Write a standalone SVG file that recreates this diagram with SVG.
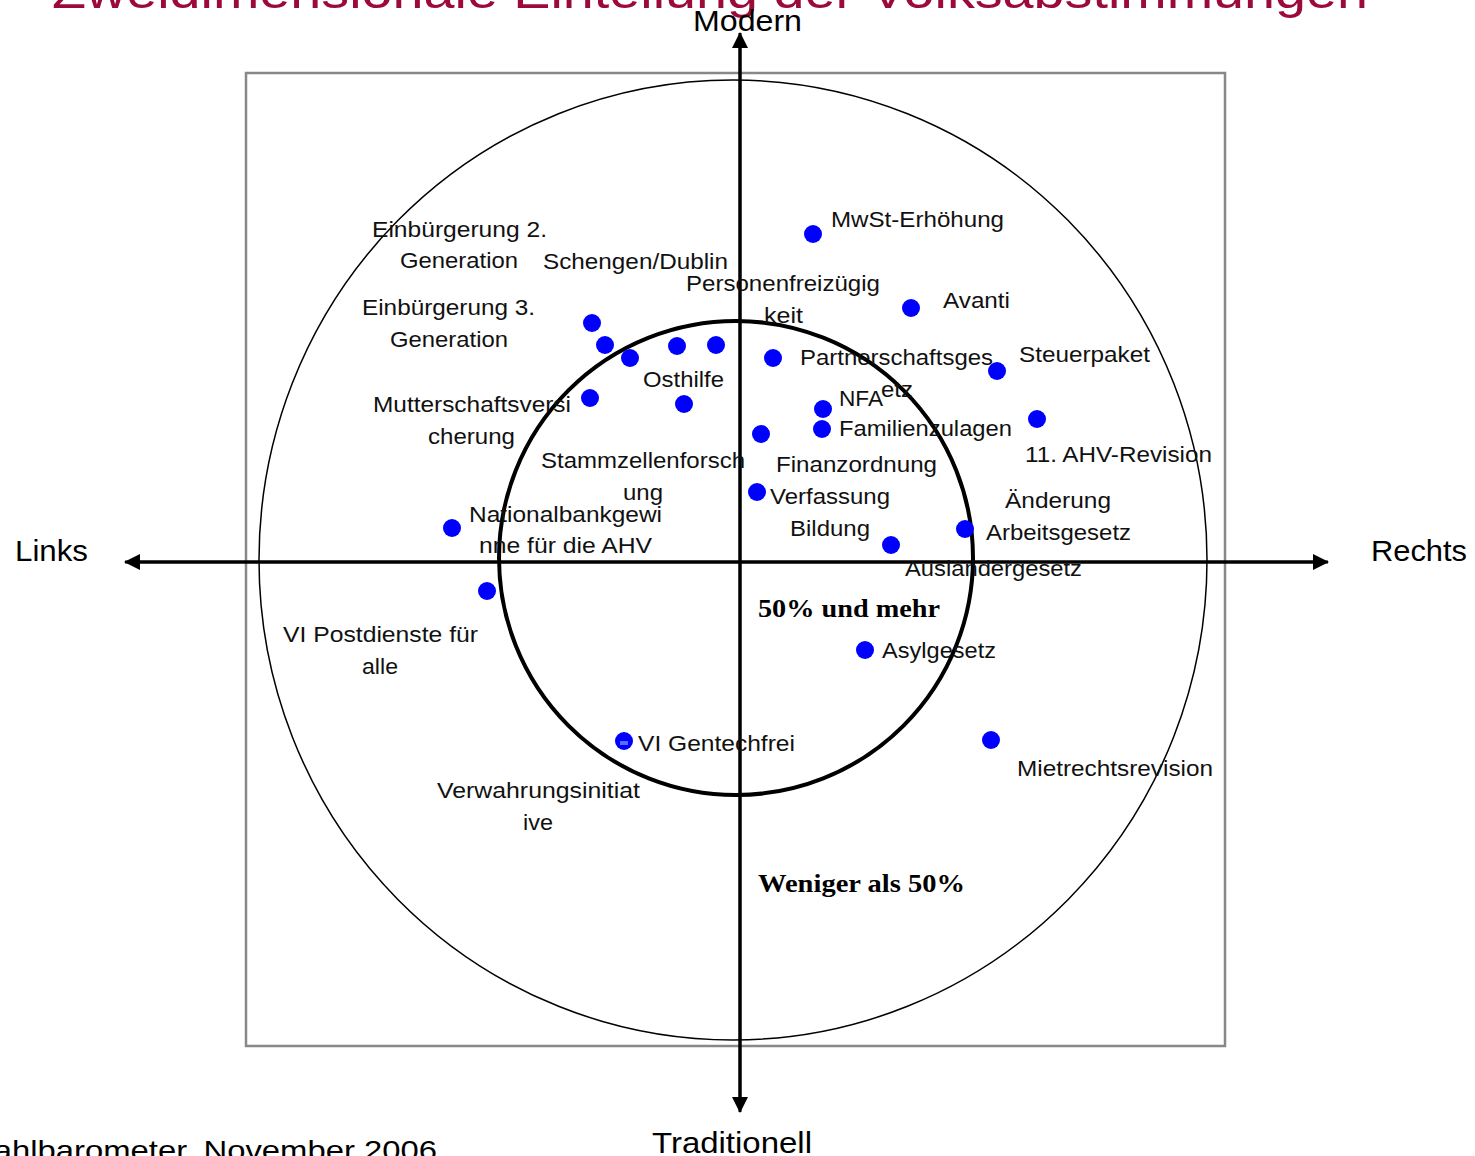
<svg xmlns="http://www.w3.org/2000/svg" width="1475" height="1156" viewBox="0 0 1475 1156">
<style>
.lbl{font-family:"Liberation Sans","DejaVu Sans",sans-serif;font-size:22px;fill:#111}
.ax{font-family:"Liberation Sans","DejaVu Sans",sans-serif;font-size:29px;fill:#000}
.bold{font-family:"Liberation Serif","DejaVu Serif",serif;font-weight:bold;font-size:25px;fill:#000}
.dot{fill:#0000ff}
.mid{text-anchor:middle}
</style>
<defs>
<marker id="ah" viewBox="0 0 16 16" refX="15" refY="8" markerWidth="16" markerHeight="16" markerUnits="userSpaceOnUse" orient="auto">
<path d="M0,0 L16,8 L0,16 Z" fill="#000"/>
</marker>
</defs>
<rect width="1475" height="1156" fill="#fff"/>
<text x="52" y="8" font-family="Liberation Sans, sans-serif" font-size="48" fill="#9b0a3a" textLength="1316" lengthAdjust="spacingAndGlyphs">Zweidimensionale Einteilung der Volksabstimmungen</text>
<rect x="246" y="73" width="979" height="973" fill="none" stroke="#888" stroke-width="2.5"/>
<ellipse cx="733" cy="560" rx="474" ry="480" fill="none" stroke="#000" stroke-width="1.5"/>
<circle cx="736" cy="558" r="237" fill="none" stroke="#000" stroke-width="4"/>
<g id="connectors">
<line x1="740" y1="1097" x2="740" y2="33" stroke="#000" stroke-width="3" marker-end="url(#ah)"/>
<line x1="740" y1="48" x2="740" y2="1112" stroke="#000" stroke-width="3" marker-end="url(#ah)"/>
<line x1="140" y1="562" x2="1328" y2="562" stroke="#000" stroke-width="3" marker-end="url(#ah)"/>
<line x1="1313" y1="562" x2="125" y2="562" stroke="#000" stroke-width="3" marker-end="url(#ah)"/>
</g>
<g id="axis-labels">
<text class="ax" x="693" y="31" textLength="109" lengthAdjust="spacingAndGlyphs">Modern</text>
<text class="ax" x="652" y="1153" textLength="160" lengthAdjust="spacingAndGlyphs">Traditionell</text>
<text class="ax" x="15" y="561" textLength="73" lengthAdjust="spacingAndGlyphs">Links</text>
<text class="ax" x="1371" y="561" textLength="96" lengthAdjust="spacingAndGlyphs">Rechts</text>
</g>
<text x="-36" y="1160" font-family="Liberation Sans, sans-serif" font-size="28" fill="#000" textLength="473" lengthAdjust="spacingAndGlyphs">Wahlbarometer, November 2006</text>
<text class="bold" x="758" y="617" textLength="182" lengthAdjust="spacingAndGlyphs">50% und mehr</text>
<text class="bold" x="758" y="892" textLength="207" lengthAdjust="spacingAndGlyphs">Weniger als 50%</text>

<g id="einbuergerung2">
<text class="lbl" x="372" y="237" textLength="175" lengthAdjust="spacingAndGlyphs">Einbürgerung 2.</text>
<text class="lbl" x="400" y="268" textLength="118" lengthAdjust="spacingAndGlyphs">Generation</text>
<circle class="dot" cx="592" cy="323" r="9"/>
</g>
<g id="schengen">
<text class="lbl" x="543" y="269" textLength="185" lengthAdjust="spacingAndGlyphs">Schengen/Dublin</text>
<circle class="dot" cx="677" cy="346" r="9"/>
</g>
<g id="einbuergerung3">
<text class="lbl" x="362" y="315" textLength="173" lengthAdjust="spacingAndGlyphs">Einbürgerung 3.</text>
<text class="lbl" x="390" y="347" textLength="118" lengthAdjust="spacingAndGlyphs">Generation</text>
<circle class="dot" cx="605" cy="345" r="9"/>
</g>
<g id="osthilfe">
<text class="lbl" x="643" y="387" textLength="81" lengthAdjust="spacingAndGlyphs">Osthilfe</text>
<circle class="dot" cx="630" cy="358" r="9"/>
</g>
<g id="personenfreizuegigkeit">
<text class="lbl" x="686" y="291" textLength="194" lengthAdjust="spacingAndGlyphs">Personenfreizügig</text>
<text class="lbl" x="764" y="323" textLength="39" lengthAdjust="spacingAndGlyphs">keit</text>
<circle class="dot" cx="716" cy="345" r="9"/>
</g>
<g id="mutterschaft">
<text class="lbl" x="373" y="412" textLength="198" lengthAdjust="spacingAndGlyphs">Mutterschaftsversi</text>
<text class="lbl" x="428" y="444" textLength="87" lengthAdjust="spacingAndGlyphs">cherung</text>
<circle class="dot" cx="590" cy="398" r="9"/>
</g>
<g id="stammzellen">
<text class="lbl" x="541" y="468" textLength="204" lengthAdjust="spacingAndGlyphs">Stammzellenforsch</text>
<text class="lbl" x="623" y="500" textLength="40" lengthAdjust="spacingAndGlyphs">ung</text>
<circle class="dot" cx="684" cy="404" r="9"/>
</g>
<g id="nationalbank">
<text class="lbl" x="469" y="522" textLength="193" lengthAdjust="spacingAndGlyphs">Nationalbankgewi</text>
<text class="lbl" x="479" y="553" textLength="173" lengthAdjust="spacingAndGlyphs">nne für die AHV</text>
<circle class="dot" cx="452" cy="528" r="9"/>
</g>
<g id="postdienste">
<text class="lbl" x="283" y="642" textLength="195" lengthAdjust="spacingAndGlyphs">VI Postdienste für</text>
<text class="lbl" x="362" y="674" textLength="36" lengthAdjust="spacingAndGlyphs">alle</text>
<circle class="dot" cx="487" cy="591" r="9"/>
</g>
<g id="gentechfrei">
<text class="lbl" x="638" y="751" textLength="157" lengthAdjust="spacingAndGlyphs">VI Gentechfrei</text>
<circle class="dot" cx="624" cy="741" r="9"/>
<rect x="620" y="741" width="8" height="4" fill="#5a6cff"/>
</g>
<g id="verwahrung">
<text class="lbl" x="437" y="798" textLength="203" lengthAdjust="spacingAndGlyphs">Verwahrungsinitiat</text>
<text class="lbl" x="523" y="830" textLength="30" lengthAdjust="spacingAndGlyphs">ive</text>
</g>
<g id="mwst">
<text class="lbl" x="831" y="227" textLength="173" lengthAdjust="spacingAndGlyphs">MwSt-Erhöhung</text>
<circle class="dot" cx="813" cy="234" r="9"/>
</g>
<g id="avanti">
<text class="lbl" x="943" y="308" textLength="67" lengthAdjust="spacingAndGlyphs">Avanti</text>
<circle class="dot" cx="911" cy="308" r="9"/>
</g>
<g id="steuerpaket">
<text class="lbl" x="1019" y="362" textLength="131" lengthAdjust="spacingAndGlyphs">Steuerpaket</text>
<circle class="dot" cx="997" cy="371" r="9"/>
</g>
<g id="partnerschaft">
<text class="lbl" x="800" y="365" textLength="193" lengthAdjust="spacingAndGlyphs">Partnerschaftsges</text>
<text class="lbl" x="881" y="397" textLength="32" lengthAdjust="spacingAndGlyphs">etz</text>
<circle class="dot" cx="773" cy="358" r="9"/>
</g>
<g id="nfa">
<text class="lbl" x="839" y="406" textLength="44" lengthAdjust="spacingAndGlyphs">NFA</text>
<circle class="dot" cx="823" cy="409" r="9"/>
</g>
<g id="familienzulagen">
<text class="lbl" x="839" y="436" textLength="173" lengthAdjust="spacingAndGlyphs">Familienzulagen</text>
<circle class="dot" cx="822" cy="429" r="9"/>
</g>
<g id="ahv11">
<text class="lbl" x="1025" y="462" textLength="187" lengthAdjust="spacingAndGlyphs">11. AHV-Revision</text>
<circle class="dot" cx="1037" cy="419" r="9"/>
</g>
<g id="finanzordnung">
<text class="lbl" x="776" y="472" textLength="161" lengthAdjust="spacingAndGlyphs">Finanzordnung</text>
<circle class="dot" cx="761" cy="434" r="9"/>
</g>
<g id="verfassung-bildung">
<text class="lbl" x="770" y="504" textLength="120" lengthAdjust="spacingAndGlyphs">Verfassung</text>
<text class="lbl" x="790" y="536" textLength="80" lengthAdjust="spacingAndGlyphs">Bildung</text>
<circle class="dot" cx="757" cy="492" r="9"/>
</g>
<g id="arbeitsgesetz">
<text class="lbl" x="1005" y="508" textLength="106" lengthAdjust="spacingAndGlyphs">Änderung</text>
<text class="lbl" x="986" y="540" textLength="145" lengthAdjust="spacingAndGlyphs">Arbeitsgesetz</text>
<circle class="dot" cx="965" cy="529" r="9"/>
</g>
<g id="auslaendergesetz">
<text class="lbl" x="905" y="576" textLength="177" lengthAdjust="spacingAndGlyphs">Ausländergesetz</text>
<circle class="dot" cx="891" cy="545" r="9"/>
</g>
<g id="asylgesetz">
<text class="lbl" x="882" y="658" textLength="114" lengthAdjust="spacingAndGlyphs">Asylgesetz</text>
<circle class="dot" cx="865" cy="650" r="9"/>
</g>
<g id="mietrecht">
<text class="lbl" x="1017" y="776" textLength="196" lengthAdjust="spacingAndGlyphs">Mietrechtsrevision</text>
<circle class="dot" cx="991" cy="740" r="9"/>
</g>
</svg>
